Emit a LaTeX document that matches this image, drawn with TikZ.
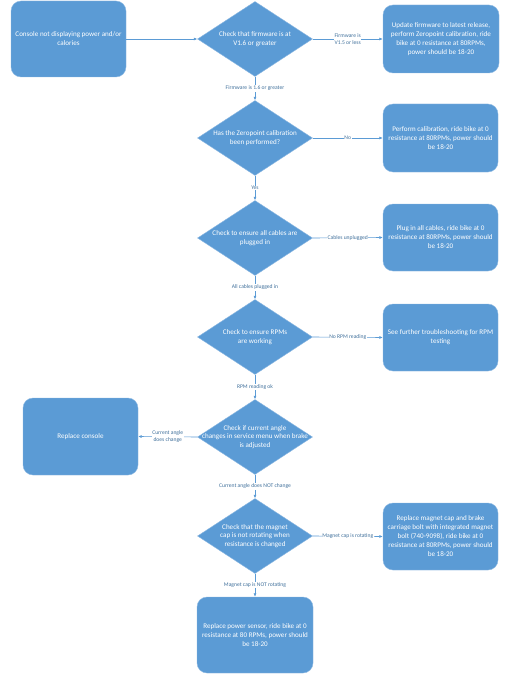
\documentclass[tikz,border=0pt]{standalone}
\usepackage{fontspec}
\setmainfont{Carlito}
\usetikzlibrary{shapes.geometric,arrows.meta}
\definecolor{fcblue}{HTML}{5B9BD5}
\definecolor{fcedge}{HTML}{8CB8E2}
\definecolor{lbltxt}{HTML}{41719C}
\tikzset{
  procbox/.style={draw=fcedge, line width=0.4pt, fill=fcblue, rounded corners=10pt, inner sep=0pt,
    text=white, align=center, font=\fontsize{7.1}{9}\selectfont},
  dia/.style={draw=fcedge, line width=0.4pt, fill=fcblue, diamond, inner sep=0pt,
    minimum width=115pt, minimum height=75pt},
  diatext/.style={text=white, align=center, font=\fontsize{7.1}{8.8}\selectfont, inner sep=0pt},
  conn/.style={draw=fcblue, line width=0.6pt, -{Latex[length=3.5pt,width=3pt]}},
  edgelbl/.style={fill=white, text=lbltxt, align=center, inner sep=0.6pt,
    font=\fontsize{5.6}{6.6}\selectfont}
}
\begin{document}
\begin{tikzpicture}[x=1pt,y=-1pt]
\useasboundingbox[fill=white] (0,0) rectangle (514,682);

% left column boxes
\node[procbox, minimum width=115pt, minimum height=76pt] (start) at (68.5,39) {Console not displaying power and/or\\calories};
\node[procbox, minimum width=115pt, minimum height=77pt] (repl) at (80.5,436.5) {Replace console};

% diamonds
\node[dia] (d1) at (255,39) {};
\node[diatext] at (d1) {Check that firmware is at\\V1.6 or greater};
\node[dia] (d2) at (255,138) {};
\node[diatext] at (d2) {Has the Zeropoint calibration\\been performed?};
\node[dia] (d3) at (255,238) {};
\node[diatext] at (d3) {Check to ensure all cables are\\plugged in};
\node[dia] (d4) at (255,337) {};
\node[diatext] at (d4) {Check to ensure RPMs\\are working};
\node[dia] (d5) at (255,437) {};
\node[diatext] at (d5) {Check if current angle\\changes in service menu when brake\\is adjusted};
\node[dia] (d6) at (255,536) {};
\node[diatext] at (d6) {Check that the magnet\\cap is not rotating when\\resistance is changed};

% final box
\node[procbox, minimum width=116pt, minimum height=76pt] (b7) at (255,635) {Replace power sensor, ride bike at 0\\resistance at 80 RPMs, power should\\be 18-20};

% right column boxes
\node[procbox, minimum width=116pt, minimum height=68pt] (b1) at (441,39) {Update firmware to latest release,\\perform Zeropoint calibration, ride\\bike at 0 resistance at 80RPMs,\\power should be 18-20};
\node[procbox, minimum width=115pt, minimum height=68pt] (b2) at (440.5,138) {Perform calibration, ride bike at 0\\resistance at 80RPMs, power should\\be 18-20};
\node[procbox, minimum width=115pt, minimum height=67pt] (b3) at (440.5,237.5) {Plug in all cables, ride bike at 0\\resistance at 80RPMs, power should\\be 18-20};
\node[procbox, minimum width=115pt, minimum height=67pt] (b4) at (440.5,337.5) {See further troubleshooting for RPM\\testing};
\node[procbox, minimum width=115pt, minimum height=67pt] (b6) at (440.5,536.5) {Replace magnet cap and brake\\carriage bolt with integrated magnet\\bolt (740-9098), ride bike at 0\\resistance at 80RPMs, power should\\be 18-20};

% connectors
\draw[conn] (start.east) -- (d1.west);
\draw[conn] (d1.east) -- node[edgelbl]{Firmware is\\V1.5 or less} (b1.west);
\draw[conn] (d1.south) -- node[edgelbl]{Firmware is 1.6 or greater} (d2.north);
\draw[conn] (d2.east) -- node[edgelbl]{No} (b2.west);
\draw[conn] (d2.south) -- node[edgelbl]{Yes} (d3.north);
\draw[conn] (d3.east) -- node[edgelbl]{Cables unplugged} (b3.west);
\draw[conn] (d3.south) -- node[edgelbl]{All cables plugged in} (d4.north);
\draw[conn] (d4.east) -- node[edgelbl]{No RPM reading} (b4.west);
\draw[conn] (d4.south) -- node[edgelbl]{RPM reading ok} (d5.north);
\draw[conn] (d5.west) -- node[edgelbl]{Current angle\\does change} (repl.east);
\draw[conn] (d5.south) -- node[edgelbl]{Current angle does NOT change} (d6.north);
\draw[conn] (d6.east) -- node[edgelbl]{Magnet cap is rotating} (b6.west);
\draw[conn] (d6.south) -- node[edgelbl]{Magnet cap is NOT rotating} (b7.north);
\end{tikzpicture}
\end{document}
